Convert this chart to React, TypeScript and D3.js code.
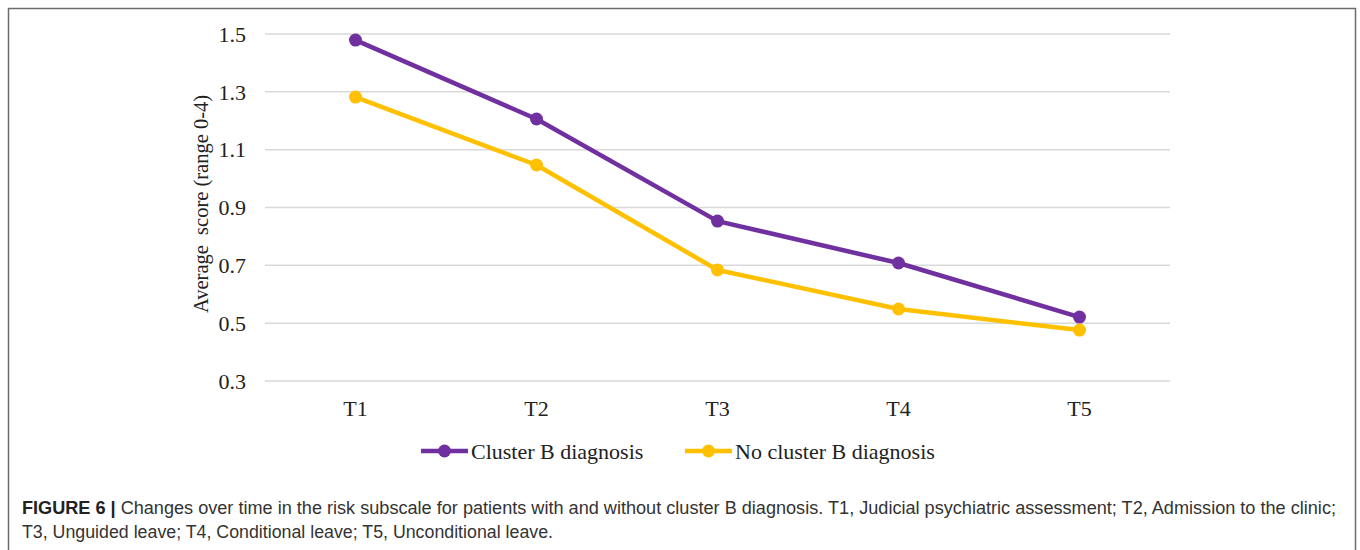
import React from "react";
import * as d3 from "d3";

// chart data
const categories = ["T1", "T2", "T3", "T4", "T5"];
const clusterB = [1.479, 1.206, 0.853, 0.708, 0.521];
const noClusterB = [1.282, 1.047, 0.684, 0.549, 0.476];
const yTicks = [0.3, 0.5, 0.7, 0.9, 1.1, 1.3, 1.5];
const seriesNames = ["Cluster B diagnosis", "No cluster B diagnosis"];
const seriesColors = ["#7030a0", "#ffc000"];

const W = 1360;
const H = 550;
const plot = { left: 265, right: 1170, top: 34, bottom: 381 };
const serif = "'Liberation Serif', 'Times New Roman', serif";
const sans = "'Liberation Sans', Arial, sans-serif";

export default function App() {
  const x = d3.scaleBand<string>().domain(categories).range([plot.left, plot.right]);
  const y = d3.scaleLinear().domain([0.3, 1.5]).range([plot.bottom, plot.top]);
  const cx = (i: number) => (x(categories[i]) as number) + x.bandwidth() / 2;
  const line = d3
    .line<number>()
    .x((_, i) => cx(i))
    .y(d => y(d));

  const series = [clusterB, noClusterB];
  const legendX = [421, 685];

  return (
    <div style={{ position: "absolute", left: 0, top: 0, width: W, height: H, background: "#fff" }}>
      <svg width={W} height={H} style={{ display: "block" }}>
        {/* frame */}
        <path d={`M8.5 ${H}V8.5H1355.5V${H}`} fill="none" stroke="#6b6b6b" strokeWidth={1.5} />

        {/* gridlines + y labels */}
        {yTicks.map(t => (
          <g key={t}>
            <line x1={plot.left} x2={plot.right} y1={y(t)} y2={y(t)} stroke="#d9d9d9" strokeWidth={1.5} />
            <text x={246} y={y(t)} dy="0.35em" textAnchor="end" fontFamily={serif} fontSize={22} fill="#222">
              {t.toFixed(1)}
            </text>
          </g>
        ))}

        {/* x labels */}
        {categories.map((c, i) => (
          <text key={c} x={cx(i)} y={408} dy="0.35em" textAnchor="middle" fontFamily={serif} fontSize={22} fill="#222">
            {c}
          </text>
        ))}

        {/* y title */}
        <text
          transform={`translate(201, 204) rotate(-90)`}
          textAnchor="middle"
          dy="0.35em"
          fontFamily={serif}
          fontSize={20.5}
          fill="#222"
          style={{ whiteSpace: "pre" }}
        >
          {"Average  score (range 0-4)"}
        </text>

        {/* series */}
        {series.map((s, si) => (
          <g key={si}>
            <path d={line(s) ?? ""} fill="none" stroke={seriesColors[si]} strokeWidth={4.5} strokeLinejoin="round" />
            {s.map((v, i) => (
              <circle key={i} cx={cx(i)} cy={y(v)} r={6.5} fill={seriesColors[si]} />
            ))}
          </g>
        ))}

        {/* legend */}
        {seriesNames.map((n, i) => (
          <g key={n} transform={`translate(${legendX[i]}, 451)`}>
            <line x1={0} x2={47} y1={0} y2={0} stroke={seriesColors[i]} strokeWidth={4.5} />
            <circle cx={23.5} cy={0} r={6.5} fill={seriesColors[i]} />
            <text x={50} dy="0.35em" fontFamily={serif} fontSize={22} fill="#222">
              {n}
            </text>
          </g>
        ))}

        {/* caption */}
        <text x={22} y={514} fontFamily={sans} fontSize={17.5} fill="#333" textLength={1314} lengthAdjust="spacingAndGlyphs">
          <tspan fontWeight="bold" fill="#222">FIGURE 6 | </tspan>
          Changes over time in the risk subscale for patients with and without cluster B diagnosis. T1, Judicial psychiatric assessment; T2, Admission to the clinic;
        </text>
        <text x={22} y={538} fontFamily={sans} fontSize={17.5} fill="#333" textLength={531} lengthAdjust="spacingAndGlyphs">
          T3, Unguided leave; T4, Conditional leave; T5, Unconditional leave.
        </text>
      </svg>
    </div>
  );
}
